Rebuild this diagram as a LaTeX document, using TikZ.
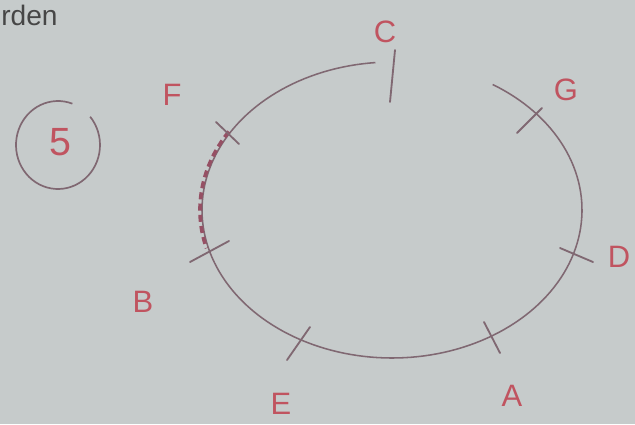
\documentclass[tikz,border=0pt]{standalone}
\usepackage{fontspec}
\setmainfont{Liberation Sans}
\definecolor{paper}{RGB}{198,203,203}
\definecolor{pencil}{RGB}{128,104,114}
\definecolor{redpen}{RGB}{192,84,96}
\definecolor{dashpen}{RGB}{150,80,100}
\definecolor{ink}{RGB}{70,70,70}
\tikzset{
  lbl/.style={text=redpen,font=\fontsize{22}{22}\selectfont,inner sep=0pt},
  tick/.style={draw=pencil,line width=1.3pt,line cap=round},
  curve/.style={draw=pencil,line width=1.1pt},
}
\begin{document}
\begin{tikzpicture}[x=0.025cm,y=-0.025cm]
\useasboundingbox (0,0) rectangle (635,424);
\fill[paper] (0,0) rectangle (635,424);
% cut word
\node[text=ink,font=\fontsize{20}{20}\selectfont,anchor=west,inner sep=0pt] (word) at (1,15) {rden};
% circled 5
\node[lbl,font=\fontsize{28}{28}\selectfont] (five) at (60,142) {5};
\draw[pencil,line width=1.2pt] plot[domain=70:400,samples=60] ({58+42*cos(\x)},{145-44*sin(\x)});
% main arc
\draw[curve] plot[domain=95:418,samples=160] ({392+190*cos(\x)},{210-148*sin(\x)});
\draw[dashpen,line width=2.6pt,dash pattern=on 5pt off 3pt] plot[domain=148:195,samples=40] ({390+190*cos(\x)},{210-148*sin(\x)});
% tick ends
\coordinate (c1) at (395,50);  \coordinate (c2) at (390,102);
\coordinate (g1) at (517,133); \coordinate (g2) at (542,108);
\coordinate (d1) at (560,248); \coordinate (d2) at (593,262);
\coordinate (a1) at (484,322); \coordinate (a2) at (500,353);
\coordinate (e1) at (287,360); \coordinate (e2) at (310,327);
\coordinate (f1) at (216,122); \coordinate (f2) at (239,144);
\coordinate (b1) at (190,262); \coordinate (b2) at (229,241);
\draw[tick] (c1) -- (c2);
\draw[tick] (g1) -- (g2);
\draw[tick] (d1) -- (d2);
\draw[tick] (a1) -- (a2);
\draw[tick] (e1) -- (e2);
\draw[tick] (f1) -- (f2);
\draw[tick] (b1) -- (b2);
% labels
\node[lbl] (C) at (385,32) {C};
\node[lbl] (F) at (172,95) {F};
\node[lbl] (G) at (566,90) {G};
\node[lbl] (D) at (619,257) {D};
\node[lbl] (A) at (512,396) {A};
\node[lbl] (E) at (281,404) {E};
\node[lbl] (B) at (143,302) {B};
\end{tikzpicture}
\end{document}
